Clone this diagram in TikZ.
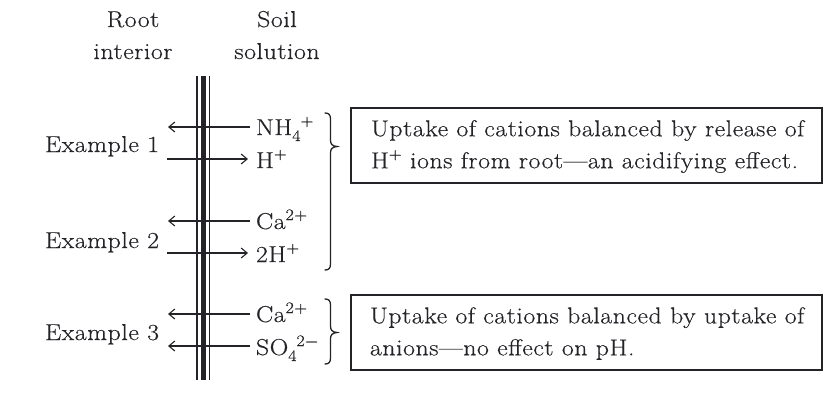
\documentclass[tikz,border=0pt]{standalone}
\usepackage{fontspec}
\setmainfont{Latin Modern Roman}[FakeStretch=1.12,LetterSpace=2.5,FakeBold=0.4]
\usetikzlibrary{arrows.meta}
\definecolor{ink}{RGB}{35,35,40}
\newcommand\ionsup[1]{\raisebox{9pt}{\fontsize{16}{16}\selectfont #1}}
\newcommand\ionsub[1]{\raisebox{-6pt}{\fontsize{16}{16}\selectfont #1}}
\begin{document}
\begin{tikzpicture}[x=1pt,y=-1pt,
  every node/.style={inner sep=0pt,outer sep=0pt,text=ink,font=\fontsize{23}{32}\selectfont},
  head/.style={anchor=base},
  lbl/.style={anchor=base west},
  flux/.style={draw=ink,line width=1.2pt,-{Straight Barb[length=6pt,width=10pt,line width=1.1pt]}},
  memthin/.style={draw=ink,line width=1.6pt},
  memthick/.style={draw=ink,line width=5pt},
  brace/.style={draw=ink,line width=1.3pt,line cap=round},
  frame/.style={draw=ink,line width=1.3pt,anchor=north west,minimum width=471pt,minimum height=75pt},
  boxtext/.style={anchor=west,align=left}]
\useasboundingbox (0,0) rectangle (840,405);

% headings
\node[head] (root) at (133,27) {Root};
\node[head] (rootb) at (133,59) {interior};
\node[head] (soil) at (277,27) {Soil};
\node[head] (soilb) at (277,59) {solution};

% membrane
\draw[memthin] (197,76) -- (197,380);
\draw[memthick] (203.5,76) -- (203.5,380);
\draw[memthin] (209.5,76) -- (209.5,380);

% example labels
\node[lbl] (ex1) at (45,152) {Example 1};
\node[lbl] (ex2) at (45,248) {Example 2};
\node[lbl] (ex3) at (45,340) {Example 3};

% ion labels
\node[lbl] (nh) at (256,135) {NH\ionsub{4}\ionsup{+}};
\node[lbl] (h1) at (256,168) {H\ionsup{+}};
\node[lbl] (ca1) at (256,229) {Ca\ionsup{2+}};
\node[lbl] (h2) at (256,262) {2H\ionsup{+}};
\node[lbl] (ca2) at (256,322) {Ca\ionsup{2+}};
\node[lbl] (so) at (256,355) {SO\ionsub{4}\ionsup{2−}};

% arrow ends
\coordinate (a1s) at (250,127); \coordinate (a1e) at (168,127);
\coordinate (a2s) at (167,159); \coordinate (a2e) at (248,159);
\coordinate (a3s) at (250,221); \coordinate (a3e) at (168,221);
\coordinate (a4s) at (167,253); \coordinate (a4e) at (248,253);
\coordinate (a5s) at (250,314); \coordinate (a5e) at (168,314);
\coordinate (a6s) at (250,346); \coordinate (a6e) at (168,346);
\draw[flux] (a1s) -- (a1e);
\draw[flux] (a2s) -- (a2e);
\draw[flux] (a3s) -- (a3e);
\draw[flux] (a4s) -- (a4e);
\draw[flux] (a5s) -- (a5e);
\draw[flux] (a6s) -- (a6e);

% braces
\draw[brace] (325,113) .. controls (329,113) and (330.5,115) .. (330.5,119)
  -- (330.5,140) .. controls (330.5,144) and (332,146) .. (337,146.5)
  .. controls (332,147) and (330.5,149) .. (330.5,153)
  -- (330.5,264) .. controls (330.5,268) and (329,270) .. (325,270);
\draw[brace] (325,299) .. controls (329,299) and (330.5,301) .. (330.5,305)
  -- (330.5,326) .. controls (330.5,330) and (332,332) .. (337,332.5)
  .. controls (332,333) and (330.5,335) .. (330.5,339)
  -- (330.5,358) .. controls (330.5,362) and (329,364) .. (325,364);

% boxes
\node[frame] (box1) at (351,108) {};
\node[boxtext] (t1) at ([xshift=20pt,yshift=-1pt]box1.west) {Uptake of cations balanced by release of\\H\ionsup{+} ions from root---an acidifying effect.};
\node[frame] (box2) at (351,295) {};
\node[boxtext] (t2) at ([xshift=19pt,yshift=-1pt]box2.west) {Uptake of cations balanced by uptake of\\anions---no effect on pH.};
\end{tikzpicture}
\end{document}
